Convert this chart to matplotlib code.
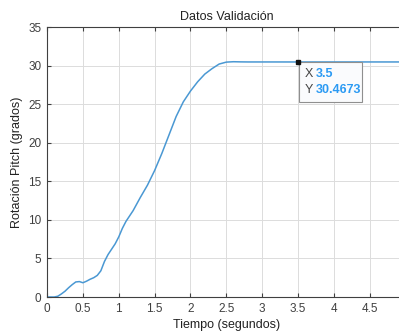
import matplotlib
matplotlib.use("Agg")
import matplotlib.pyplot as plt

plt.rcParams['font.family'] = ['Liberation Sans', 'DejaVu Sans']

# values
tiempo = [0, 0.05, 0.1, 0.15, 0.2, 0.25, 0.3, 0.35, 0.4, 0.45, 0.5, 0.55, 0.6,
          0.65, 0.7, 0.75, 0.8, 0.85, 0.9, 0.95, 1.0, 1.05, 1.1, 1.2, 1.3,
          1.4, 1.5, 1.6, 1.7, 1.8, 1.9, 2.0, 2.1, 2.2, 2.3, 2.4, 2.5, 2.6,
          2.7, 2.8, 3.0, 3.5, 4.0, 4.5, 5.0]
pitch = [0, 0, 0, 0.1, 0.4, 0.75, 1.2, 1.6, 1.95, 2.0, 1.85, 2.05, 2.3,
         2.5, 2.8, 3.4, 4.6, 5.5, 6.2, 6.9, 7.8, 8.9, 9.8, 11.2, 12.9,
         14.5, 16.4, 18.6, 21.0, 23.4, 25.3, 26.7, 27.9, 28.9, 29.6, 30.2,
         30.45, 30.5, 30.48, 30.47, 30.47, 30.4673, 30.47, 30.47, 30.47]
tip_x = 3.5
tip_y = 30.4673

xticks = [0, 0.5, 1, 1.5, 2, 2.5, 3, 3.5, 4, 4.5]
xticklabels = ['0', '0.5', '1', '1.5', '2', '2.5', '3', '3.5', '4', '4.5']
yticks = [0, 5, 10, 15, 20, 25, 30, 35]

fig = plt.figure(figsize=(3.99, 3.31), dpi=100)
ax = fig.add_axes([0.118, 0.1027, 0.8985, 0.8157])

ax.plot(tiempo, pitch, color='#4a98d3', linewidth=1.1)
ax.plot([tip_x], [tip_y], 's', color='#111111', markersize=3, zorder=6)

ax.set_xlim(0, 5)
ax.set_ylim(0, 35)
ax.set_xticks(xticks)
ax.set_xticklabels(xticklabels)
ax.set_yticks(yticks)
ax.grid(True, color='#dcdcdc', linewidth=0.7)
ax.set_axisbelow(True)
ax.tick_params(direction='in', length=3, labelsize=8.5, colors='#404040',
               top=True, right=True, pad=4)
for s in ax.spines.values():
    s.set_color('#404040')
    s.set_linewidth(0.8)

ax.set_title('Datos Validación', fontsize=9, color='#222222', pad=5)
ax.set_xlabel('Tiempo (segundos)', fontsize=9, color='#222222', labelpad=3)
ax.set_ylabel('Rotación Pitch (grados)', fontsize=9, color='#222222', labelpad=4)

# data tip box
x0, y0 = 3.51, 25.3
w, h = 0.88, 5.15
ax.add_patch(plt.Rectangle((x0, y0), w, h, fc='#fafbfd', ec='#8f8f8f', lw=0.8, zorder=4))
ax.text(x0 + 0.08, y0 + h * 0.7, 'X', fontsize=9, color='#444444', va='center', zorder=5)
ax.text(x0 + 0.24, y0 + h * 0.7, '3.5', fontsize=9, color='#2b9af3',
        fontweight='bold', va='center', zorder=5)
ax.text(x0 + 0.08, y0 + h * 0.3, 'Y', fontsize=9, color='#444444', va='center', zorder=5)
ax.text(x0 + 0.24, y0 + h * 0.3, '30.4673', fontsize=9, color='#2b9af3',
        fontweight='bold', va='center', zorder=5)

fig.savefig('out.png', dpi=100)
